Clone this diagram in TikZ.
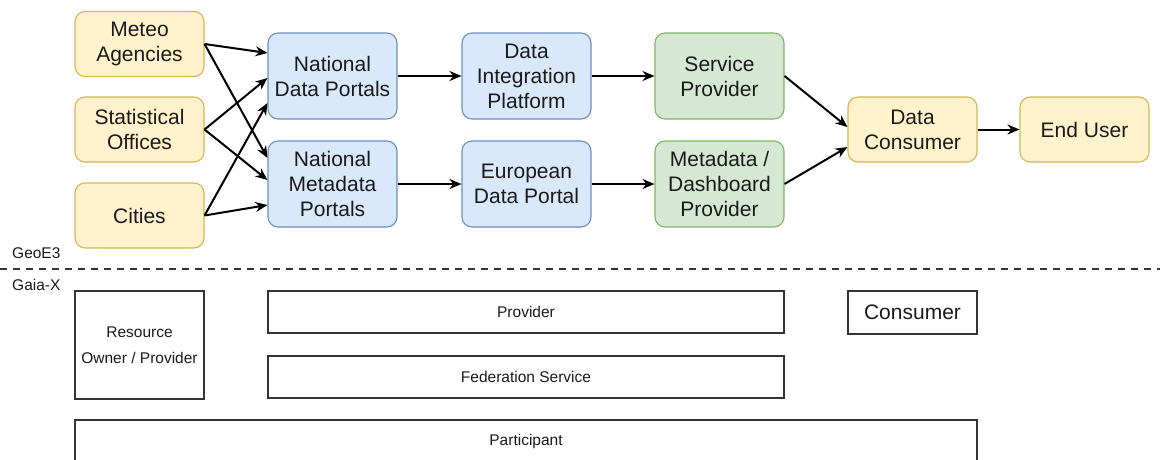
\documentclass[tikz,border=0pt]{standalone}
\usepackage{fontspec}
\setmainfont{Liberation Sans}
\usetikzlibrary{arrows.meta,calc}

\definecolor{ylwfill}{HTML}{FFF2CC}
\definecolor{ylwline}{HTML}{D6B656}
\definecolor{bluefill}{HTML}{DAE8FC}
\definecolor{blueline}{HTML}{6C8EBF}
\definecolor{grnfill}{HTML}{D5E8D4}
\definecolor{grnline}{HTML}{82B366}
\definecolor{ink}{HTML}{1A1A1A}
\definecolor{frame}{HTML}{333333}

\tikzset{
  box/.style={rounded corners=10pt, line width=1.1pt, align=center, inner sep=0pt,
    text=ink, font=\fontsize{21}{25}\selectfont, minimum width=129pt},
  ybox/.style={box, fill=ylwfill, draw=ylwline, minimum height=65pt},
  bbox/.style={box, fill=bluefill, draw=blueline, minimum height=86pt},
  gbox/.style={box, fill=grnfill, draw=grnline, minimum height=86pt},
  plain/.style={draw=frame, line width=1.1pt, inner sep=0pt, align=center, text=ink,
    font=\fontsize{15.5}{26}\selectfont},
  lbl/.style={inner sep=0pt, anchor=base west, text=ink, font=\fontsize{15.5}{18}\selectfont},
  arr/.style={draw=black, line width=2pt, -{Stealth[length=12pt,width=10pt]}}
}

\begin{document}
\begin{tikzpicture}[x=1pt,y=-1pt]
\useasboundingbox (0,0) rectangle (1160,459);

% GeoE3 chain
\node[ybox] (meteo) at (139.5,44)  {Meteo\\Agencies};
\node[ybox] (stat)  at (139.5,129.5) {Statistical\\Offices};
\node[ybox] (city)  at (139.5,215.5) {Cities};

\node[bbox] (ndp) at (332.5,76)  {National\\Data Portals};
\node[bbox] (nmp) at (332.5,184) {National\\Metadata\\Portals};
\node[bbox] (dip) at (526.5,76)  {Data\\Integration\\Platform};
\node[bbox] (edp) at (526.5,184) {European\\Data Portal};
\node[gbox] (sp)  at (719.5,76)  {Service\\Provider};
\node[gbox] (mdp) at (719.5,184) {Metadata /\\Dashboard\\Provider};
\node[ybox] (dc)  at (912.5,129.5) {Data\\Consumer};
\node[ybox] (eu)  at (1084.5,129.5) {End User};

\draw[arr] (meteo.east) -- ($(ndp.west)+(0,-23)$);
\draw[arr] (meteo.east) -- ($(nmp.west)+(0,-26)$);
\draw[arr] (stat.east)  -- ($(ndp.west)+(0,2)$);
\draw[arr] (stat.east)  -- ($(nmp.west)+(0,-4)$);
\draw[arr] (city.east)  -- ($(ndp.west)+(0,27)$);
\draw[arr] (city.east)  -- ($(nmp.west)+(0,21)$);

\draw[arr] (ndp) -- (dip);
\draw[arr] (nmp) -- (edp);
\draw[arr] (dip) -- (sp);
\draw[arr] (edp) -- (mdp);
\draw[arr] (sp.east)  -- ($(dc.west)+(0,-2.5)$);
\draw[arr] (mdp.east) -- ($(dc.west)+(0,17.5)$);
\draw[arr] (dc) -- (eu);

% separator between the two layers
\coordinate (sepL) at (0,269);
\coordinate (sepR) at (1160,269);
\draw[frame, line width=2pt, dash pattern=on 7pt off 6pt] (sepL) -- (sepR);
\node[lbl] (geo)  at (12,258) {GeoE3};
\node[lbl] (gaia) at (12,290) {Gaia-X};

% Gaia-X roles
\node[plain, minimum width=129pt, minimum height=108pt] (res) at (139.5,345) {Resource\\Owner / Provider};
\node[plain, minimum width=516pt, minimum height=42pt] (prov) at (526,312) {Provider};
\node[plain, minimum width=516pt, minimum height=42pt] (fed)  at (526,377) {Federation Service};
\node[plain, minimum width=129pt, minimum height=43pt, font=\fontsize{21}{25}\selectfont] (cons) at (912.5,312.5) {Consumer};
\node[plain, minimum width=902pt, minimum height=42pt] (part) at (526,441) {Participant};

\end{tikzpicture}
\end{document}
